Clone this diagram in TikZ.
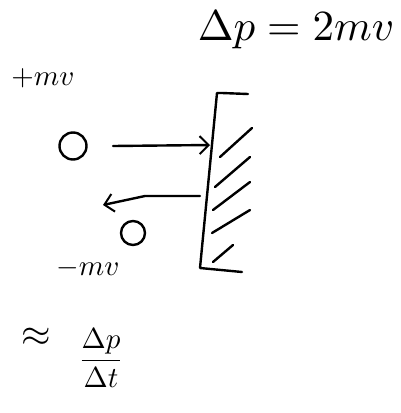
\documentclass[tikz,border=0pt]{standalone}
\usetikzlibrary{arrows.meta}
\begin{document}
\begin{tikzpicture}[x=1pt,y=-1pt,
  pen/.style={line width=2.4pt,line cap=round,line join=round,black},
  ball/.style={circle,draw,line width=2.4pt,inner sep=0pt},
  arr/.style={pen,-{Straight Barb[length=9pt,width=18pt,line width=2pt]}},
  lbl/.style={inner sep=0pt}]
\useasboundingbox (0,0) rectangle (400,413);
% title
\node[lbl] (title) at (296,30) {\scalebox{4.3}{$\Delta p = 2mv$}};
% labels
\node[lbl] (plus) at (43,78) {\scalebox{2.9}{$+mv$}};
\node[lbl] (minus) at (88,268) {\scalebox{2.9}{$-mv$}};
% balls
\node[ball,minimum size=27pt] (b1) at (73,146) {};
\node[ball,minimum size=24pt] (b2) at (133,233) {};
% wall
\coordinate (wt) at (217,93);
\coordinate (wb) at (200,268);
\coordinate (wtr) at (248,94);
\coordinate (wbr) at (242,272);
\draw[pen] (wtr) -- (222,93) -- (wt) -- (wb) -- (wbr);
\foreach \a/\b/\c/\d in {220/157/252/128, 215/187/250/157, 213/210/250/182, 212/233/250/210, 213/262/233/245}
  \draw[pen] (\a,\b) -- (\c,\d);
% arrows
\coordinate (a1s) at (113,146);
\coordinate (a1e) at (210,145);
\coordinate (a2s) at (200,196);
\coordinate (a2e) at (103,205);
\draw[arr] (a1s) -- (a1e);
\draw[arr] (a2s) -- (145,196) -- (a2e);
% formula
\node[lbl] (approx) at (36,337) {\scalebox{3.8}{$\approx$}};
\node[lbl] (frac) at (101,358) {\scalebox{2.9}{$\displaystyle\frac{\Delta p}{\Delta t}$}};
\end{tikzpicture}
\end{document}
